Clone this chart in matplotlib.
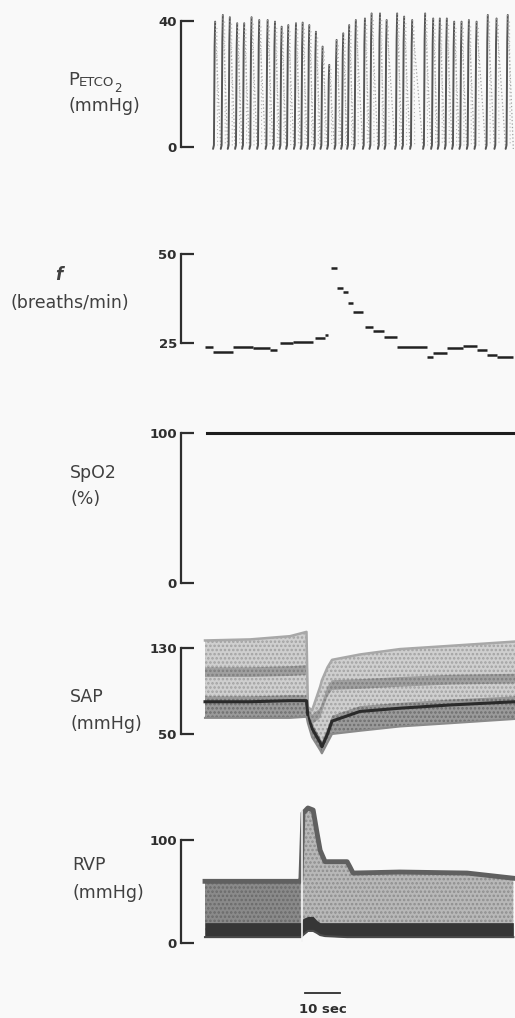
import matplotlib
matplotlib.use('Agg')
import matplotlib.pyplot as plt
import numpy as np

# ---- data (time in seconds from start of trace) ----
petco2_time = [2.9, 5.1, 7.1, 9.2, 11.2, 13.3, 15.5, 17.9, 20.0, 21.9, 23.8, 26.0,
               27.9, 29.8, 31.7, 33.6, 35.5, 37.6, 39.5, 41.2, 43.1, 45.7, 47.6,
               50.0, 51.9, 54.9, 56.9, 59.2, 62.9, 65.2, 67.1, 69.1, 71.2, 73.3,
               75.4, 77.6, 80.8, 83.3, 86.5]
petco2_peak = [39.7, 41.8, 41.1, 39.2, 39.2, 41.1, 40.2, 40.2, 39.7, 38.1, 38.6, 39.2,
               39.4, 38.6, 36.5, 31.8, 26.0, 33.9, 36.0, 38.6, 40.2, 40.7, 42.3,
               42.3, 40.2, 42.3, 41.3, 40.2, 42.3, 40.7, 40.7, 40.7, 39.7, 39.7,
               40.2, 39.7, 41.8, 40.7, 41.8]

f_start = [0.0, 2.4, 8.1, 13.8, 18.6, 21.4, 25.2, 31.4, 34.3, 35.9, 37.6, 39.5, 40.9,
           42.4, 45.7, 48.1, 51.0, 54.8, 63.3, 65.2, 69.1, 73.8, 77.6, 80.5, 83.3]
f_end = [2.4, 8.1, 13.8, 18.6, 20.5, 25.2, 30.9, 34.3, 35.2, 37.6, 39.5, 40.9, 42.4,
         45.2, 48.1, 51.0, 54.8, 63.3, 65.2, 69.1, 73.8, 77.6, 80.5, 83.3, 88.1]
f_value = [24.0, 22.5, 24.0, 23.5, 23.0, 24.9, 25.4, 26.3, 27.2, 46.0, 40.5, 39.4, 36.3,
           33.8, 29.6, 28.5, 26.8, 24.0, 21.2, 22.3, 23.5, 24.2, 23.0, 21.6, 21.2]

spo2_time = [0.5, 88.6]
spo2_value = [100, 100]

sap_time = [0, 12.9, 24.3, 29.0, 29.4, 30.6, 32.9, 33.4, 35.0, 36.3, 44.3, 55.7, 70.0, 88.6]
sap_top = [137, 138, 141, 145, 75, 72, 94, 100, 112, 119, 124, 129, 132, 136]
sap_bottom = [65, 65, 65, 66, 60, 47, 35, 32, 42, 50, 53, 57, 60, 64]
sap_dark = [80, 80, 81, 81, 66, 55, 42, 38, 50, 62, 71, 74, 77, 80]
sap_stripe = [108, 108, 109, 110, 70, 64, 70, 75, 90, 96, 97, 99, 101, 102]

rvp_time = [0, 27.1, 27.4, 28.0, 29.4, 30.9, 32.0, 32.9, 34.3, 40.6, 41.4, 42.3, 55.7, 74.9, 88.1]
rvp_top = [60, 60, 62, 126, 131, 129, 107, 90, 79, 79, 74, 68, 69, 68, 63]
rvp_bottom = [6, 6, 6, 8, 12, 12, 10, 8, 7, 6, 6, 6, 6, 6, 6]
rvp_dark = [20, 20, 20, 24, 26, 26, 22, 20, 20, 20, 20, 20, 20, 20, 20]

event_time = 27.7
scalebar_start = 28.6
scalebar_len = 10

# ---- layout ----
W, H = 515, 1018
plt.rcParams['hatch.linewidth'] = 1.2
fig = plt.figure(figsize=(W / 100, H / 100), dpi=100)
fig.patch.set_facecolor('#f9f9f9')

ink = '#2e2e2e'
tickfont = dict(family=['Liberation Sans Narrow', 'DejaVu Sans'], weight='bold', size=9.5, color=ink)
labfont = dict(family='DejaVu Sans', size=12.5, color='#404040')

x_left = 181
xlim = ((x_left - 205) / 3.5, (W - 205) / 3.5)


def panel(y_low, y_high, lo, hi):
    # y_low / y_high are pixel rows of the lower / upper tick
    ax = fig.add_axes([x_left / W, 1 - y_low / H, (W - x_left) / W, (y_low - y_high) / H])
    ax.set_xlim(*xlim)
    ax.set_ylim(lo, hi)
    ax.patch.set_visible(False)
    for s in ['top', 'right', 'bottom']:
        ax.spines[s].set_visible(False)
    ax.spines['left'].set_linewidth(1.6)
    ax.spines['left'].set_color(ink)
    ax.set_xticks([])
    ax.set_yticks([lo, hi])
    ax.set_yticklabels([str(lo), str(hi)], fontdict=tickfont)
    ax.tick_params(axis='y', direction='in', length=9, width=1.6, color=ink, pad=3)
    return ax


def label(x, y, s, **kw):
    d = dict(labfont)
    d.update(kw)
    return fig.text(x / W, 1 - y / H, s, ha='left', va='center', **d)


# PETCO2
ax1 = panel(147, 20.7, 0, 40)
nxt = petco2_time[1:] + [petco2_time[-1] + 2.2]
for t, p, tn in zip(petco2_time, petco2_peak, nxt):
    ax1.plot([t - 0.6, t - 0.35, t - 0.15, t], [-0.6, 0.6, p * 0.8, p],
             color='#555555', lw=1.4, solid_capstyle='round', clip_on=False)
    ax1.plot([t, tn - 0.6], [p, -0.6], color='#a0a0a0', lw=0.9,
             linestyle=(0, (1, 1.8)), clip_on=False)
    ax1.plot([t + 0.5, t + 0.7], [p * 0.95, 0.5], color='#b4b4b4', lw=0.8,
             linestyle=(0, (1, 2.5)), clip_on=False)

t1 = label(68, 80, 'P', size=13)
ax1.annotate('ETCO', xy=(1, 0), xycoords=t1, va='bottom', ha='left',
             fontsize=9.5, family='DejaVu Sans', color='#404040')
label(114, 88, '2', size=8.5)
label(68, 106, '(mmHg)')

# f
ax2 = panel(343, 254, 25, 50)
ax2.hlines(f_value, f_start, f_end, color='#222222', lw=1.8, clip_on=False)
label(55, 275, 'f', style='italic', weight='bold', size=12)
label(11, 303, '(breaths/min)')

# SpO2
ax3 = panel(582.7, 432.7, 0, 100)
ax3.plot(spo2_time, spo2_value, color='#1e1e1e', lw=2.2, clip_on=False)
label(70, 473, 'SpO2')
label(70, 499, '(%)')

# SAP
ax4 = panel(734, 648, 50, 130)
st = np.array(sap_time)
stop, sbot = np.array(sap_top), np.array(sap_bottom)
sdk, sst = np.array(sap_dark), np.array(sap_stripe)
ax4.fill_between(st, sbot, stop, facecolor='#cfcfcf', edgecolor='#a2a2a2', hatch='....',
                 lw=0, clip_on=False)
ax4.plot(st, stop, color='#a8a8a8', lw=1.8, clip_on=False)
ax4.fill_between(st, sst - 5, sst + 4, facecolor='#a0a0a0', edgecolor='#7e7e7e',
                 hatch='....', lw=0, clip_on=False)
ax4.fill_between(st, sbot, sdk + 5, facecolor='#9a9a9a', edgecolor='#6e6e6e',
                 hatch='....', lw=0, clip_on=False)
ax4.plot(st, sdk, color='#2a2a2a', lw=2.2, clip_on=False)
ax4.plot(st, sbot, color='#8a8a8a', lw=1.5, clip_on=False)
label(70, 697, 'SAP')
label(70, 724, '(mmHg)')

# RVP
ax5 = panel(943.3, 840, 0, 100)
rt = np.array(rvp_time)
rtop, rbot, rdk = np.array(rvp_top), np.array(rvp_bottom), np.array(rvp_dark)
ax5.fill_between(rt, rbot, rtop, where=rt <= 27.4, facecolor='#8a8a8a', edgecolor='#6a6a6a',
                 hatch='....', lw=0, clip_on=False)
ax5.fill_between(rt, rbot, rtop, where=rt >= 27.4, facecolor='#b8b8b8', edgecolor='#8e8e8e',
                 hatch='....', lw=0, clip_on=False)
ax5.plot(rt, rtop, color='#606060', lw=3.5, clip_on=False)
ax5.fill_between(rt, rbot, rdk, color='#363636', lw=0, clip_on=False)
ax5.plot(rt, rbot, color='#4a4a4a', lw=1.5, clip_on=False)
ax5.plot([event_time, event_time], [2, 128], color='#f4f4f4', lw=1.2, clip_on=False)
ax5.plot([scalebar_start, scalebar_start + scalebar_len], [-48, -48], color=ink, lw=1.3,
         clip_on=False)
ax5.text(scalebar_start + scalebar_len / 2, -64, '10 sec', ha='center', va='center',
         clip_on=False, **tickfont)
label(72, 865, 'RVP')
label(72, 893, '(mmHg)')

fig.savefig('out.png', dpi=100, facecolor=fig.get_facecolor())
